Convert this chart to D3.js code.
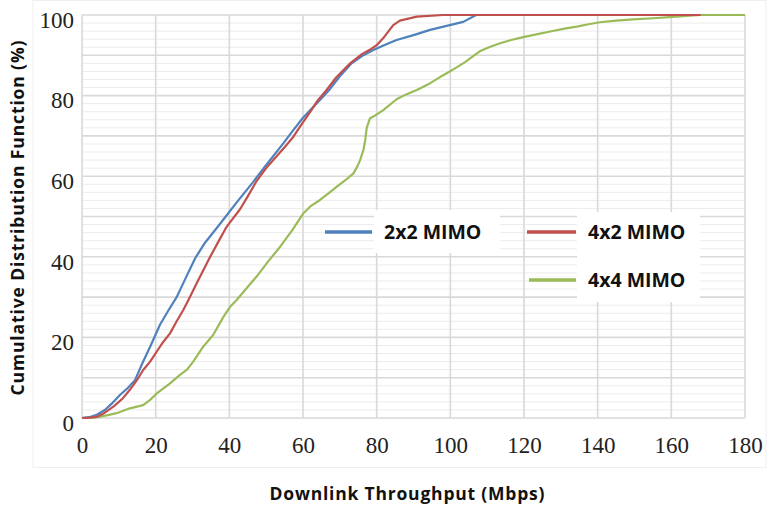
<!DOCTYPE html>
<html>
<head>
<meta charset="utf-8">
<script src="https://cdn.jsdelivr.net/npm/d3@7"></script>
<style>
  body { margin: 0; background: #fff; }
  svg { display: block; }
</style>
</head>
<body>
<svg id="chart" width="767" height="507"></svg>
<script>
// series: [throughput Mbps, CDF %]
const mimo2x2 = [
  [0, 0], [2, 0.2], [4, 0.8], [6.2, 2], [8, 3.5], [10.3, 5.7], [12.5, 7.5], [14.4, 9.4],
  [16.2, 13.2], [18.5, 17.7], [21.2, 23.2], [23.4, 26.6], [25.7, 30], [28.4, 35.2],
  [30.7, 39.6], [33.4, 43.5], [37.5, 48.2], [42, 53.5], [46.5, 58.6], [49.7, 62.4],
  [54.7, 68.2], [57, 71], [60, 74.5], [64.6, 78.9], [67.3, 81.6], [70, 84.8], [73.2, 88],
  [76, 89.8], [79.1, 91.3], [82, 92.5], [85.4, 93.8], [90, 95], [94.5, 96.3], [99, 97.3],
  [103.5, 98.3], [107, 100]
];
const mimo4x2 = [
  [0, 0], [2, 0.1], [4, 0.3], [6, 1.2], [8.5, 2.8], [11, 4.8], [13, 7], [15, 9.5],
  [16.6, 11.9], [18.5, 14], [20.3, 16.5], [22, 18.8], [23.9, 21], [25.7, 24], [27.5, 26.8],
  [28.9, 29.3], [31.1, 33.4], [34.8, 40], [37, 43.7], [39.3, 47.5], [42.9, 51.8], [45, 55],
  [47.4, 58.8], [50, 62], [52.9, 65], [55, 67.2], [57.4, 69.8], [59.2, 72.3], [62, 76],
  [64, 78.8], [66.4, 81.4], [69, 84.5], [72.8, 88], [76, 90.3], [78, 91.3], [80, 92.5],
  [82, 94.5], [84.5, 97.5], [86.3, 98.6], [90.9, 99.6], [98, 100], [168, 100]
];
const mimo4x4 = [
  [0, 0], [3, 0.1], [4.9, 0.3], [7, 0.7], [9.4, 1.2], [13, 2.4], [16.6, 3.2], [18.5, 4.5],
  [20.3, 6.1], [23.9, 8.6], [26.6, 10.7], [28.5, 12], [30.2, 14], [32.9, 17.7], [35.6, 20.6],
  [38.4, 25.1], [40.2, 27.6], [42, 29.3], [44.5, 32], [47.4, 35.1], [50.5, 38.8],
  [53.8, 42.5], [57, 46.5], [60.1, 50.8], [62, 52.5], [64.6, 54.1], [67, 55.8], [69.2, 57.4],
  [71.5, 59], [73.7, 60.7], [74.8, 62.5], [75.5, 64], [76.4, 66.5], [76.9, 69], [77.3, 72],
  [78.2, 74.4], [79.1, 74.8], [81.8, 76.4], [85.4, 79.1], [88, 80.3], [90.9, 81.4],
  [94, 82.8], [97.2, 84.6], [99.5, 85.8], [101.7, 87], [104, 88.3], [106.2, 89.8], [108, 91],
  [110.5, 92], [113.5, 93], [116.5, 93.8], [119.8, 94.5], [124, 95.3], [127.1, 95.9],
  [131, 96.6], [134.3, 97.1], [137.5, 97.7], [140.6, 98.2], [145, 98.6], [149.6, 98.9],
  [155.1, 99.2], [161.4, 99.6], [167.8, 100], [180, 100]
];

const xTicks = [0, 20, 40, 60, 80, 100, 120, 140, 160, 180];
const yTicks = [0, 20, 40, 60, 80, 100];
const legendLabels = ["2x2 MIMO", "4x2 MIMO", "4x4 MIMO"];
const colors = ["#4f81bd", "#c0504d", "#9bbb59"];

const svg = d3.select("#chart");

const x = d3.scaleLinear().domain([0, 180]).range([82, 745]);
const y = d3.scaleLinear().domain([0, 100]).range([418, 15]);

// faint chart-area frame
svg.append("rect")
  .attr("x", 33).attr("y", 0.5)
  .attr("width", 733).attr("height", 467)
  .attr("fill", "none")
  .attr("stroke", "#efefef");

// minor horizontal grid every 2
svg.append("g")
  .selectAll("line")
  .data(d3.range(0, 101, 2).filter(v => v % 10 !== 0))
  .enter()
  .append("line")
  .attr("x1", x(0)).attr("x2", x(180))
  .attr("y1", d => y(d)).attr("y2", d => y(d))
  .attr("stroke", "#ececec")
  .attr("stroke-width", 1);

// major horizontal grid every 10
svg.append("g")
  .selectAll("line")
  .data(d3.range(0, 101, 10))
  .enter()
  .append("line")
  .attr("x1", x(0)).attr("x2", x(180))
  .attr("y1", d => y(d)).attr("y2", d => y(d))
  .attr("stroke", "#d9d9d9")
  .attr("stroke-width", 1.6);

// vertical grid
svg.append("g")
  .selectAll("line")
  .data(xTicks)
  .enter()
  .append("line")
  .attr("x1", d => x(d)).attr("x2", d => x(d))
  .attr("y1", y(0)).attr("y2", y(100))
  .attr("stroke", "#d9d9d9")
  .attr("stroke-width", 1.6);

// curves
const line = d3.line().x(d => x(d[0])).y(d => y(d[1]));
const series = [mimo4x4, mimo2x2, mimo4x2];
const seriesColors = [colors[2], colors[0], colors[1]];

svg.append("g")
  .selectAll("path")
  .data(series)
  .enter()
  .append("path")
  .attr("d", line)
  .attr("fill", "none")
  .attr("stroke", (d, i) => seriesColors[i])
  .attr("stroke-width", 2.2)
  .attr("stroke-linejoin", "round");

// axes (labels only)
const xAxis = svg.append("g")
  .attr("transform", "translate(0, 431)")
  .call(d3.axisBottom(x).tickValues(xTicks).tickSize(0).tickPadding(6));
const yAxis = svg.append("g")
  .attr("transform", "translate(74, 5)")
  .call(d3.axisLeft(y).tickValues(yTicks).tickSize(0).tickPadding(0));

[xAxis, yAxis].forEach(g => {
  g.select(".domain").remove();
  g.selectAll("text")
    .style("font-family", "'Liberation Serif', 'DejaVu Serif', serif")
    .style("font-size", "23px")
    .attr("fill", "#222");
});

// axis titles
svg.append("text")
  .attr("x", 407).attr("y", 500)
  .attr("text-anchor", "middle")
  .attr("textLength", 275)
  .style("font-family", "'Open Sans', sans-serif")
  .style("font-weight", "bold")
  .style("font-size", "17.5px")
  .attr("fill", "#111")
  .text("Downlink Throughput (Mbps)");

svg.append("text")
  .attr("transform", "translate(24, 218) rotate(-90)")
  .attr("text-anchor", "middle")
  .attr("textLength", 355)
  .style("font-family", "'Open Sans', sans-serif")
  .style("font-weight", "bold")
  .style("font-size", "17.5px")
  .attr("fill", "#111")
  .text("Cumulative Distribution Function (%)");

// legend
svg.append("rect").attr("x", 374).attr("y", 210).attr("width", 126).attr("height", 43).attr("fill", "#fff");
svg.append("rect").attr("x", 577).attr("y", 212).attr("width", 123).attr("height", 90).attr("fill", "#fff");

const legendPos = [[325, 372, 232], [527, 576, 232], [529, 576, 280]];

const legend = svg.append("g")
  .selectAll("g")
  .data(legendLabels)
  .enter()
  .append("g");

legend.append("line")
  .attr("x1", (d, i) => legendPos[i][0])
  .attr("x2", (d, i) => legendPos[i][1])
  .attr("y1", (d, i) => legendPos[i][2])
  .attr("y2", (d, i) => legendPos[i][2])
  .attr("stroke", (d, i) => colors[i])
  .attr("stroke-width", 3.5);

legend.append("text")
  .attr("x", (d, i) => legendPos[i][1] + 12)
  .attr("y", (d, i) => legendPos[i][2])
  .attr("dy", "0.35em")
  .style("font-family", "'Open Sans', sans-serif")
  .style("font-weight", "bold")
  .style("font-size", "19.5px")
  .attr("fill", "#111")
  .text(d => d);
</script>
</body>
</html>
